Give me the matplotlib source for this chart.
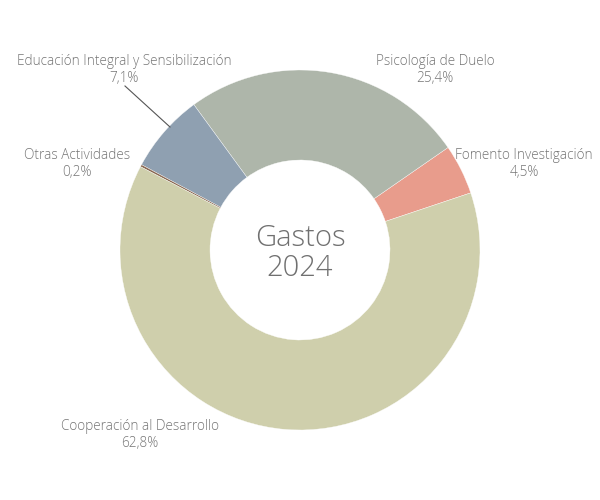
import matplotlib
matplotlib.use("Agg")
import matplotlib.pyplot as plt

categorias = ["Fomento Investigación", "Psicología de Duelo",
              "Educación Integral y Sensibilización", "Otras Actividades",
              "Cooperación al Desarrollo"]
porcentajes = [4.5, 25.4, 7.1, 0.2, 62.8]
colores = ["#e89c8c", "#aeb6aa", "#8fa0b1", "#8b6a55", "#cfcfac"]
etiquetas = ["4,5%", "25,4%", "7,1%", "0,2%", "62,8%"]

# posiciones de las etiquetas (px)
pos_etiquetas = [(524, 164), (435, 70), (124, 70), (77, 164), (140, 435)]

plt.rcParams['font.family'] = ['Open Sans', 'DejaVu Sans']

fig = plt.figure(figsize=(6, 5), dpi=100)
ax = fig.add_axes([0, 0, 1, 1])

# eje y invertido -> sentido horario en datos = antihorario en pantalla
ax.pie(porcentajes, colors=colores, startangle=-18.5, counterclock=False,
       center=(300, 250), radius=180, frame=True,
       wedgeprops=dict(width=90, edgecolor='white', linewidth=0.25))
ax.set_xlim(0, 600)
ax.set_ylim(500, 0)
ax.set_aspect('equal')
ax.axis('off')

for cat, et, (x, y) in zip(categorias, etiquetas, pos_etiquetas):
    ax.text(x, y, cat + "\n" + et, ha='center', va='center', fontsize=9.8,
            color='#757575', linespacing=1.15, fontweight='light')

# línea guía de Educación
ax.plot([125, 170], [86, 127], color='#555555', lw=0.8)

ax.text(300, 253, "Gastos\n2024", ha='center', va='center', fontsize=21,
        color='#707070', linespacing=1.0, fontweight='light')

fig.savefig("out.png", dpi=100)
